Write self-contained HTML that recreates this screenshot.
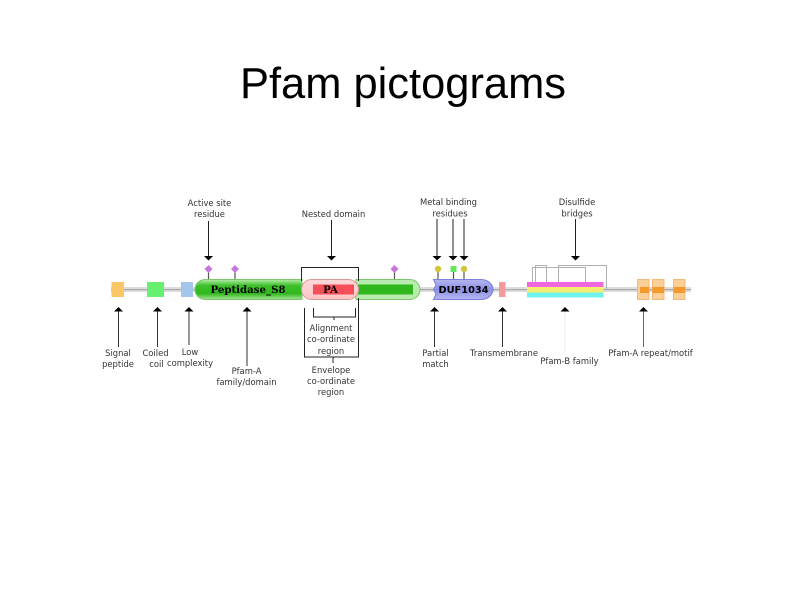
<!DOCTYPE html>
<html><head><meta charset="utf-8"><style>
html,body{margin:0;padding:0;background:#fff;width:794px;height:595px;overflow:hidden}
svg{display:block}
text{font-family:"Liberation Sans",sans-serif}
.l{font-family:"DejaVu Sans",sans-serif;font-size:8.4px;fill:#333;text-anchor:middle}
.n{font-family:"DejaVu Serif","Liberation Serif",serif;font-size:10.2px;font-weight:bold;fill:#000;text-anchor:middle}
</style></head><body>
<svg width="794" height="595" viewBox="0 0 794 595" xmlns="http://www.w3.org/2000/svg">
<defs>
<linearGradient id="g" x1="0" y1="0" x2="0" y2="1"><stop offset="0" stop-color="#b5eca8"/><stop offset=".3" stop-color="#3fc02c"/><stop offset=".7" stop-color="#2fb81c"/><stop offset="1" stop-color="#a5e498"/></linearGradient>
<linearGradient id="r" x1="0" y1="0" x2="0" y2="1"><stop offset="0" stop-color="#ffd8d8"/><stop offset="1" stop-color="#ffc4c4"/></linearGradient>
<linearGradient id="b" x1="0" y1="0" x2="0" y2="1"><stop offset="0" stop-color="#b4b6ef"/><stop offset=".5" stop-color="#8d90e4"/><stop offset="1" stop-color="#b4b6ef"/></linearGradient>
<filter id="soft" x="0" y="0" width="100%" height="100%"><feGaussianBlur stdDeviation="0.35"/></filter>
</defs>
<text x="240" y="98" font-size="43.5" fill="#000" textLength="326" lengthAdjust="spacingAndGlyphs">Pfam pictograms</text>

<g filter="url(#soft)">
<rect x="0" y="120" width="794" height="300" fill="#fff"/>
<!-- backbone -->
<rect x="111" y="287" width="580" height="5" fill="#dedede"/>
<rect x="111" y="289" width="580" height="1.2" fill="#a8a8a8"/>

<!-- simple regions -->
<rect x="111.500" y="282" width="12.500" height="15" fill="#fbc766"/>
<rect x="147" y="282" width="17" height="15" fill="#66f070"/>
<rect x="181" y="282" width="12" height="15" fill="#a4c6ea"/>
<rect x="499" y="282" width="6.500" height="15" fill="#f59a9a"/>

<!-- sticks -->
<g stroke="#555" stroke-width="1.200">
<line x1="208.500" y1="270" x2="208.500" y2="280"/>
<line x1="235" y1="270" x2="235" y2="280"/>
<line x1="394.500" y1="270" x2="394.500" y2="280"/>
<line x1="438" y1="270" x2="438" y2="280"/>
<line x1="453.500" y1="270" x2="453.500" y2="280"/>
<line x1="464" y1="270" x2="464" y2="280"/>
</g>
<g fill="#c774e0">
<path d="M208.500 265l4 4-4 4-4-4z"/>
<path d="M235 265l4 4-4 4-4-4z"/>
<path d="M394.500 265l4 4-4 4-4-4z"/>
</g>
<circle cx="438" cy="269" r="3.200" fill="#cfc63c"/>
<circle cx="464" cy="269" r="3.200" fill="#cfc63c"/>
<rect x="450.500" y="266" width="6" height="6" fill="#66e85c"/>

<!-- green domain -->
<path d="M205 279.500H302V299.500H205A10 10 0 0 1 205 279.500Z" fill="url(#g)" stroke="#7cc66c"/>
<path d="M356 279.500H410A10 10 0 0 1 410 299.500H356Z" fill="#b8ecae" stroke="#7cc66c"/>
<rect x="358" y="284.500" width="55" height="10" fill="#2fb81c"/>
<text class="n" x="248" y="293">Peptidase_S8</text>

<!-- nested domain -->
<rect x="301.500" y="279.500" width="57" height="20" rx="10" fill="url(#r)" stroke="#d69a9a"/>
<rect x="313" y="284.500" width="41" height="10" fill="#f5505a"/>
<text class="n" x="330.500" y="293">PA</text>

<!-- DUF1034 -->
<path d="M433.500 279.500H481A12 10 0 0 1 481 299.500H433.500L436 294L433.500 289.500L436 285Z" fill="url(#b)" stroke="#7c80d8"/>
<text class="n" x="463.500" y="293" style="font-family:'DejaVu Sans',sans-serif;font-size:9.800px">DUF1034</text>

<!-- disulfide -->
<g fill="none" stroke="#b0b0b0" stroke-width="1">
<path d="M532.500 283V267.500H585.500V283"/>
<path d="M535.500 283V265.500H546.500V283"/>
<path d="M558.500 283V265.500H606.500V290"/>
</g>

<!-- Pfam-B -->
<rect x="527" y="282" width="76.500" height="5" fill="#f068e0"/>
<rect x="527" y="287" width="76.500" height="5.500" fill="#f6ee70"/>
<rect x="527" y="292.500" width="76.500" height="5" fill="#70f2ec"/>

<!-- repeats -->
<g fill="#fbd098" stroke="#f4b878" stroke-width="1">
<rect x="637.500" y="279.500" width="11.500" height="20"/>
<rect x="652.500" y="279.500" width="11.500" height="20"/>
<rect x="673.500" y="279.500" width="11.500" height="20"/>
</g>
<g fill="#f59a2c">
<rect x="640" y="287" width="9" height="6"/>
<rect x="652.500" y="287" width="11.500" height="6"/>
<rect x="673.500" y="287" width="11.500" height="6"/>
</g>

<!-- top arrows -->
<g stroke="#222" stroke-width="1">
<line x1="208.500" y1="221" x2="208.500" y2="256"/>
<line x1="331.500" y1="220" x2="331.500" y2="256"/>
<line x1="437" y1="219" x2="437" y2="256"/>
<line x1="453" y1="219" x2="453" y2="256"/>
<line x1="464" y1="219" x2="464" y2="256"/>
<line x1="575.500" y1="219" x2="575.500" y2="256"/>
</g>
<g fill="#000">
<path d="M204 256h9l-4.500 4.500z"/>
<path d="M327 256h9l-4.500 4.500z"/>
<path d="M432.500 256h9l-4.500 4.500z"/>
<path d="M448.500 256h9l-4.500 4.500z"/>
<path d="M459.500 256h9l-4.500 4.500z"/>
<path d="M571 256h9l-4.500 4.500z"/>
</g>

<!-- bottom arrows -->
<g stroke="#333" stroke-width="1">
<line x1="118.500" y1="311" x2="118.500" y2="347"/>
<line x1="157.500" y1="311" x2="157.500" y2="347"/>
<line x1="189" y1="311" x2="189" y2="345"/>
<line x1="247" y1="311" x2="247" y2="366"/>
<line x1="434.500" y1="311" x2="434.500" y2="347"/>
<line x1="502.500" y1="311" x2="502.500" y2="347"/>
<line x1="643.500" y1="311" x2="643.500" y2="347" stroke="#666"/>
<line x1="565" y1="311" x2="565" y2="352" stroke="#eee"/>
</g>
<g fill="#000">
<path d="M114 311.500h9l-4.500-4.500z"/>
<path d="M153 311.500h9l-4.500-4.500z"/>
<path d="M184.500 311.500h9l-4.500-4.500z"/>
<path d="M242.500 311.500h9l-4.500-4.500z"/>
<path d="M430 311.500h9l-4.500-4.500z"/>
<path d="M498 311.500h9l-4.500-4.500z"/>
<path d="M560.500 311.500h9l-4.500-4.500z"/>
<path d="M639 311.500h9l-4.500-4.500z"/>
</g>

<!-- brackets -->
<g fill="none" stroke="#222" stroke-width="1">
<path d="M301.500 281V267.500H358.500V281"/>
<path d="M304.500 308V357H358.500V298"/>
<path d="M313.500 308V317H355.500V308"/>
<line x1="334" y1="317" x2="334" y2="320"/>
<line x1="333" y1="357" x2="333" y2="363"/>
</g>

<!-- labels -->
<text class="l" x="209.500" y="206">Active site</text>
<text class="l" x="209.500" y="217">residue</text>
<text class="l" x="333.500" y="217">Nested domain</text>
<text class="l" x="448.500" y="205">Metal binding</text>
<text class="l" x="450" y="216.500">residues</text>
<text class="l" x="577" y="205">Disulfide</text>
<text class="l" x="577" y="216.500">bridges</text>

<text class="l" x="118" y="356">Signal</text>
<text class="l" x="118" y="367">peptide</text>
<text class="l" x="155.500" y="356">Coiled</text>
<text class="l" x="156.500" y="367">coil</text>
<text class="l" x="190" y="355">Low</text>
<text class="l" x="190" y="366">complexity</text>
<text class="l" x="246.500" y="374">Pfam-A</text>
<text class="l" x="246.500" y="385">family/domain</text>
<text class="l" x="331" y="331">Alignment</text>
<text class="l" x="331" y="342">co-ordinate</text>
<text class="l" x="331" y="354">region</text>
<text class="l" x="331" y="373">Envelope</text>
<text class="l" x="331" y="384">co-ordinate</text>
<text class="l" x="331" y="395">region</text>
<text class="l" x="435.500" y="356">Partial</text>
<text class="l" x="435.500" y="367">match</text>
<text class="l" x="504" y="356">Transmembrane</text>
<text class="l" x="569.500" y="364">Pfam-B family</text>
<text class="l" x="650.500" y="356">Pfam-A repeat/motif</text>
</g>
</svg>
</body></html>
